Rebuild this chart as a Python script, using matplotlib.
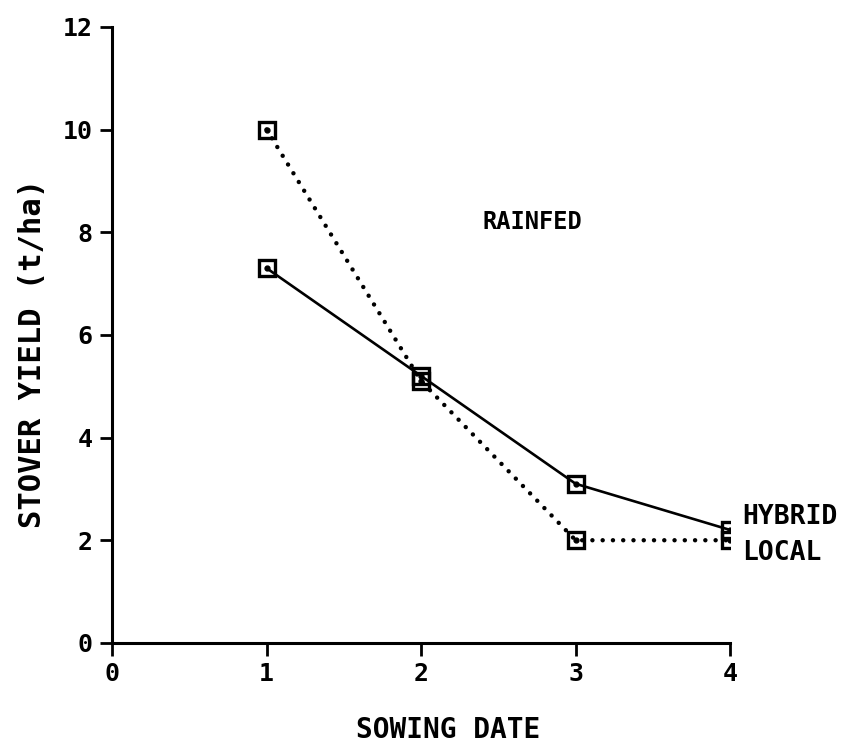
import matplotlib
matplotlib.use("Agg")
import matplotlib.pyplot as plt

sowing_date = [1, 2, 3, 4]
hybrid = [7.3, 5.2, 3.1, 2.2]
local = [10.0, 5.1, 2.0, 2.0]
x_ticks = [0, 1, 2, 3, 4]
y_ticks = [0, 2, 4, 6, 8, 10, 12]

plt.rcParams['font.family'] = ['DejaVu Sans Mono']
plt.rcParams['font.weight'] = 'bold'
plt.rcParams['axes.labelweight'] = 'bold'

fig = plt.figure(figsize=(8.55, 7.45), dpi=100)
ax = fig.add_axes([0.131, 0.137, 0.723, 0.827])

marker_style = dict(marker='s', markersize=11, markerfacecolor='none',
                    markeredgewidth=2.4, markeredgecolor='black')
ax.plot(sowing_date, hybrid, color='black', linewidth=1.9, linestyle='-',
        **marker_style)
ax.plot(sowing_date, local, color='black', linewidth=3.2,
        linestyle=(0, (0.01, 2.3)), dash_capstyle='round', **marker_style)
# pen dot at the centre of each square
ax.plot(sowing_date, hybrid, linestyle='none', marker='o', markersize=3.5,
        color='black')
ax.plot(sowing_date, local, linestyle='none', marker='o', markersize=3.5,
        color='black')

ax.set_xlim(0, 4)
ax.set_ylim(0, 12)
ax.set_xticks(x_ticks)
ax.set_yticks(y_ticks)
ax.tick_params(direction='out', length=9, width=2, labelsize=18, pad=5)

for side in ('top', 'right'):
    ax.spines[side].set_visible(False)
for side in ('left', 'bottom'):
    ax.spines[side].set_linewidth(2.2)

ax.set_xlabel('SOWING DATE', fontsize=20)
ax.set_ylabel('STOVER YIELD (t/ha)', fontsize=22)
ax.xaxis.set_label_coords(0.543, -0.118)
ax.yaxis.set_label_coords(-0.105, 0.47)

ax.text(2.4, 8.2, 'RAINFED', fontsize=17, ha='left', va='center')
ax.text(4.08, 2.45, 'HYBRID', fontsize=19, ha='left', va='center', clip_on=False)
ax.text(4.08, 1.75, 'LOCAL', fontsize=19, ha='left', va='center', clip_on=False)

fig.savefig('out.png', dpi=100)
